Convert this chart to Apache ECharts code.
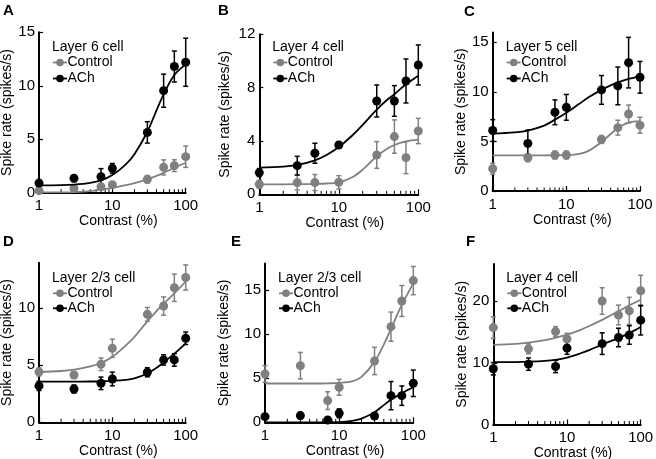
<!DOCTYPE html>
<html><head><meta charset="utf-8">
<script src="https://cdn.jsdelivr.net/npm/echarts@6/dist/echarts.min.js"></script>
<style>html,body{margin:0;padding:0;background:#fff}#c{width:656px;height:459px}</style>
</head><body><div id="c"></div>
<script>
// ---------- data ----------
const panelLetters = ['A','B','C','D','E','F'];
const cellLabels = ['Layer 6 cell','Layer 4 cell','Layer 5 cell','Layer 2/3 cell','Layer 2/3 cell','Layer 4 cell'];
const xTickLabels = [1, 10, 100];
const minorTickVals = [2,3,4,5,6,7,8,9,20,30,40,50,60,70,80,90];
const fitX = [1,2,3,5,7,10,15,20,30,40,50,70,100];

const contrastA = [1,3,7,10,30,50,70,100];
const ctrlA = [0.19,0.4,0.56,0.75,1.25,2.37,2.53,3.37];
const ctrlErrA = [0.15,0.2,0.2,0.2,0.35,0.7,0.55,1.0];
const achA = [0.9,1.34,1.5,2.28,5.64,9.54,11.8,12.2];
const achErrA = [0.25,0.3,0.75,0.45,1.0,1.55,1.45,2.25];
const ctrlFitA = [0.02,0.03,0.06,0.15,0.28,0.45,0.7,0.9,1.25,1.57,1.85,2.33,2.8];
const achFitA = [0.69,0.71,0.76,0.92,1.15,1.65,2.6,3.6,5.7,7.7,9.2,11.0,12.0];
const yTicksA = [0,5,10,15];

const contrastB = [1,3,5,10,30,50,70,100];
const ctrlB = [0.75,0.88,0.88,0.9,2.95,4.33,2.75,4.75];
const ctrlErrB = [0.3,0.55,0.6,0.5,1.0,1.25,1.2,0.95];
const achB = [1.63,2.15,3.08,3.7,7.0,7.0,8.5,9.7];
const achErrB = [0.3,0.7,0.75,0.2,1.2,1.15,1.65,1.5];
const ctrlFitB = [0.75,0.75,0.76,0.78,0.81,0.9,1.3,1.85,2.85,3.4,3.7,3.97,4.1];
const achFitB = [2.0,2.07,2.2,2.55,2.95,3.55,4.45,5.2,6.35,7.05,7.5,8.25,8.9];
const yTicksB = [0,4,8,12];

const contrastC = [1,3,7,10,30,50,70,100];
const ctrlC = [2.25,3.36,3.63,3.63,5.2,6.39,7.77,6.63];
const ctrlErrC = [0.55,0.4,0.4,0.4,0.4,0.75,0.9,0.8];
const achC = [6.1,4.8,7.94,8.44,10.2,10.6,12.95,11.47];
const achErrC = [1.1,1.35,1.25,1.3,1.45,1.9,2.55,1.6];
const ctrlFitC = [3.6,3.6,3.6,3.6,3.61,3.63,3.75,4.05,4.95,5.75,6.35,6.9,7.05];
const achFitC = [5.8,5.92,6.1,6.6,7.2,7.9,8.8,9.45,10.2,10.65,10.95,11.3,11.6];
const yTicksC = [0,5,10,15];

const contrastD = [1,3,7,10,30,50,70,100];
const ctrlD = [4.42,4.15,5.09,6.49,9.47,10.2,11.8,12.7];
const ctrlErrD = [0.35,0.3,0.55,0.8,0.6,0.8,1.2,1.1];
const achD = [3.19,2.92,3.42,3.8,4.39,5.47,5.47,7.37];
const achErrD = [0.4,0.35,0.55,0.6,0.4,0.45,0.55,0.55];
const ctrlFitD = [4.42,4.5,4.62,4.9,5.2,5.75,6.7,7.5,8.85,9.75,10.4,11.3,12.35];
const achFitD = [3.57,3.57,3.57,3.58,3.6,3.64,3.72,3.85,4.28,4.78,5.25,6.02,6.93];
const yTicksD = [0,5,10];

const contrastE = [1,3,7,10,30,50,70,100];
const ctrlE = [5.48,6.42,2.46,3.97,6.95,10.84,13.75,16.06];
const ctrlErrE = [0.95,1.5,1.0,0.9,1.55,1.65,1.75,1.6];
const achE = [0.64,0.76,0.26,1.02,0.72,3.02,3.02,4.42];
const achErrE = [0.25,0.35,0.15,0.5,0.2,1.6,1.1,1.5];
const ctrlFitE = [4.4,4.4,4.4,4.4,4.42,4.47,4.65,5.15,6.85,8.8,10.6,13.3,15.75];
const achFitE = [0,0,0,0,0,0.01,0.15,0.42,1.15,1.95,2.55,3.3,3.97];
const yTicksE = [0,5,10,15];

const contrastF = [1,3,7,10,30,50,70,100];
const ctrlF = [15.7,12.26,15.05,13.87,20.0,17.74,18.4,21.67];
const ctrlErrF = [1.75,0.8,0.8,0.9,2.15,1.6,2.2,2.5];
const achF = [9.03,9.78,9.4,12.37,13.1,14.1,14.5,16.9];
const achErrF = [1.0,1.0,1.0,1.0,1.75,1.5,1.5,2.4];
const ctrlFitF = [12.9,13.05,13.25,13.65,14.05,14.55,15.3,15.95,16.95,17.75,18.35,19.3,20.2];
const achFitF = [10.1,10.12,10.17,10.3,10.48,10.85,11.5,12.05,12.95,13.55,14.0,14.8,15.8];
const yTicksF = [0,10,20];

const panelsData = [
  {x: contrastA, c: ctrlA, ce: ctrlErrA, a: achA, ae: achErrA, cf: ctrlFitA, af: achFitA, yt: yTicksA, ymax: 15},
  {x: contrastB, c: ctrlB, ce: ctrlErrB, a: achB, ae: achErrB, cf: ctrlFitB, af: achFitB, yt: yTicksB, ymax: 12},
  {x: contrastC, c: ctrlC, ce: ctrlErrC, a: achC, ae: achErrC, cf: ctrlFitC, af: achFitC, yt: yTicksC, ymax: 16},
  {x: contrastD, c: ctrlD, ce: ctrlErrD, a: achD, ae: achErrD, cf: ctrlFitD, af: achFitD, yt: yTicksD, ymax: 14},
  {x: contrastE, c: ctrlE, ce: ctrlErrE, a: achE, ae: achErrE, cf: ctrlFitE, af: achFitE, yt: yTicksE, ymax: 18},
  {x: contrastF, c: ctrlF, ce: ctrlErrF, a: achF, ae: achErrF, cf: ctrlFitF, af: achFitF, yt: yTicksF, ymax: 26}
];

// ---------- layout ----------
const layout = [
  {left: 39,    top: 32.3, width: 146.7, height: 160.4, nameGap: 21, letter: [9, 12],   leg: [47.5, 62.5, 78.5]},
  {left: 259.3, top: 34.3, width: 159,   height: 160,   nameGap: 27, letter: [224, 12], leg: [47.5, 62.5, 78.5]},
  {left: 492.7, top: 32.4, width: 147.3, height: 158.6, nameGap: 16, letter: [470, 13], leg: [47.5, 62.5, 78.5]},
  {left: 39,    top: 262.7, width: 146.7, height: 159.6, nameGap: 21, letter: [9, 243], leg: [278.3, 293.3, 308.3]},
  {left: 265,   top: 263.5, width: 148.3, height: 158.8, nameGap: 34, letter: [237, 243], leg: [278.3, 293.3, 308.3]},
  {left: 493.3, top: 264,   width: 147.4, height: 160.5, nameGap: 20, letter: [472, 243], leg: [278.3, 293.3, 308.3]}
];

const FONT = 'Liberation Sans, Arial, Helvetica, sans-serif';
const GRAY = '#808080';
const BLACK = '#000000';

function errRender(params, api) {
  const x = api.value(0), y = api.value(1), e = api.value(2);
  const top = api.coord([x, y + e]);
  const bot = api.coord([x, y - e]);
  const cap = 2.5;
  const style = {stroke: api.visual('color'), lineWidth: 1.5};
  return {type: 'group', children: [
    {type: 'line', shape: {x1: top[0], y1: top[1], x2: bot[0], y2: bot[1]}, style},
    {type: 'line', shape: {x1: top[0]-cap, y1: top[1], x2: top[0]+cap, y2: top[1]}, style},
    {type: 'line', shape: {x1: bot[0]-cap, y1: bot[1], x2: bot[0]+cap, y2: bot[1]}, style}
  ]};
}
function minorRender(params, api) {
  const p = api.coord([api.value(0), 0]);
  return {type: 'line', shape: {x1: p[0], y1: p[1], x2: p[0], y2: p[1] - 3.5},
          style: {stroke: '#000', lineWidth: 1}};
}

const grids = [], xAxes = [], yAxes = [], series = [], graphics = [];
panelsData.forEach((d, i) => {
  const L = layout[i];
  grids.push({left: L.left, top: L.top, width: L.width, height: L.height, containLabel: false, outerBoundsMode: 'none'});
  xAxes.push({
    type: 'log', logBase: 10, min: 1, max: 100, gridIndex: i,
    axisLine: {show: true, onZero: false, lineStyle: {color: '#000', width: 2}},
    axisTick: {show: true, inside: true, length: 5, lineStyle: {color: '#000', width: 1.2}},
    axisLabel: {color: '#000', fontSize: 15, margin: 6, fontFamily: FONT,
                customValues: xTickLabels},
    splitLine: {show: false}, minorTick: {show: false},
    name: 'Contrast (%)', nameLocation: 'middle', nameGap: 19,
    nameTextStyle: {color: '#000', fontSize: 14, fontFamily: FONT, padding: [0, 0, 0, 12]}
  });
  yAxes.push({
    type: 'value', min: 0, max: d.ymax, interval: d.yt[1] - d.yt[0], gridIndex: i,
    axisLine: {show: true, onZero: false, lineStyle: {color: '#000', width: 2}},
    axisTick: {show: true, inside: true, length: 4, lineStyle: {color: '#000', width: 1.2}, customValues: d.yt},
    axisLabel: {color: '#000', fontSize: 15, margin: 4, fontFamily: FONT, customValues: d.yt},
    splitLine: {show: false},
    name: 'Spike rate (spikes/s)', nameLocation: 'middle', nameGap: L.nameGap, nameRotate: 90,
    nameTextStyle: {color: '#000', fontSize: 14, fontFamily: FONT}
  });
  const fitCtrl = fitX.map((x, k) => [x, d.cf[k]]);
  const fitAch = fitX.map((x, k) => [x, d.af[k]]);
  const common = {xAxisIndex: i, yAxisIndex: i, silent: true, animation: false};
  series.push(Object.assign({type: 'line', name: 'Control', data: fitCtrl, smooth: 0.35,
    showSymbol: false, symbol: 'none', lineStyle: {color: GRAY, width: 1.8}}, common));
  series.push(Object.assign({type: 'line', name: 'ACh', data: fitAch, smooth: 0.35,
    showSymbol: false, symbol: 'none', lineStyle: {color: BLACK, width: 1.8}}, common));
  series.push(Object.assign({type: 'custom', name: 'ctrlErr', renderItem: errRender,
    data: d.x.map((x, k) => [x, d.c[k], d.ce[k]]), itemStyle: {color: GRAY},
    encode: {x: 0, y: 1}, clip: false}, common));
  series.push(Object.assign({type: 'custom', name: 'achErr', renderItem: errRender,
    data: d.x.map((x, k) => [x, d.a[k], d.ae[k]]), itemStyle: {color: BLACK},
    encode: {x: 0, y: 1}, clip: false}, common));
  series.push(Object.assign({type: 'scatter', name: 'Control', data: d.x.map((x, k) => [x, d.c[k]]),
    symbol: 'circle', symbolSize: 9, itemStyle: {color: GRAY, opacity: 1}, clip: false}, common));
  series.push(Object.assign({type: 'scatter', name: 'ACh', data: d.x.map((x, k) => [x, d.a[k]]),
    symbol: 'circle', symbolSize: 9, itemStyle: {color: BLACK, opacity: 1}, clip: false}, common));
  series.push(Object.assign({type: 'custom', name: 'minor', renderItem: minorRender,
    data: minorTickVals.map(v => [v]), encode: {x: 0}, clip: false, z: 1}, common));

  graphics.push({type: 'text', left: L.letter[0] - 6, top: L.letter[1] - 9,
    style: {text: panelLetters[i], font: 'bold 15px ' + FONT, fill: '#000'}});
  const lx = L.left;
  graphics.push({type: 'text', x: lx + 13, y: L.leg[0],
    style: {text: cellLabels[i], font: '14px ' + FONT, fill: '#000', verticalAlign: 'middle'}});
  [[GRAY, 'Control', L.leg[1]], [BLACK, 'ACh', L.leg[2]]].forEach(([col, txt, yy]) => {
    graphics.push({type: 'line', shape: {x1: lx + 14, y1: yy, x2: lx + 28, y2: yy},
      style: {stroke: col, lineWidth: 1.8}});
    graphics.push({type: 'circle', shape: {cx: lx + 21, cy: yy, r: 3.8}, style: {fill: col}});
    graphics.push({type: 'text', x: lx + 28.5, y: yy,
      style: {text: txt, font: '14px ' + FONT, fill: '#000', verticalAlign: 'middle'}});
  });
});

const chart = echarts.init(document.getElementById('c'), null, {renderer: 'canvas'});
chart.setOption({
  animation: false,
  backgroundColor: '#fff',
  grid: grids, xAxis: xAxes, yAxis: yAxes, series: series,
  graphic: {elements: graphics}
});
</script>
</body></html>
